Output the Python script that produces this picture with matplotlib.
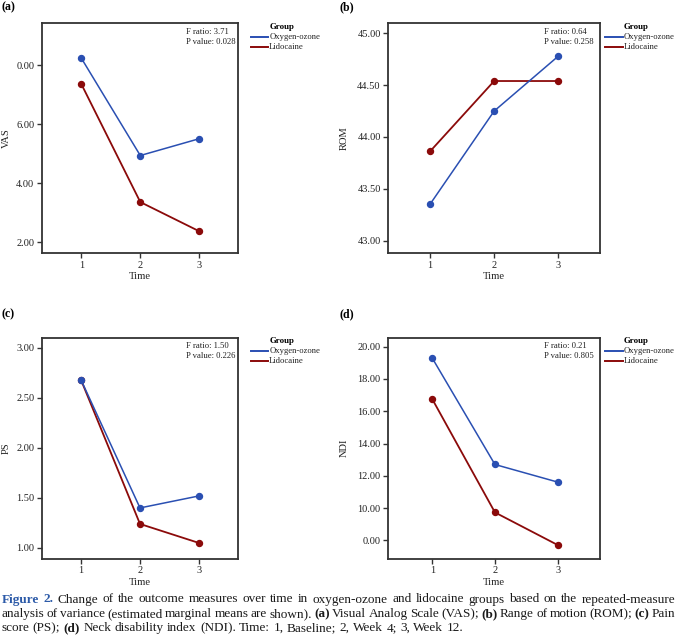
import matplotlib
matplotlib.use('Agg')
import matplotlib.pyplot as plt
from matplotlib.lines import Line2D

W, H = 677, 637
plt.rcParams['font.family'] = ['Liberation Serif', 'DejaVu Serif']

# ---------------- data ----------------
time = [1, 2, 3]
groups = ['Oxygen-ozone', 'Lidocaine']

vas_oxy = [8.24, 4.94, 5.51]
vas_lid = [7.36, 3.36, 2.37]
rom_oxy = [43.35, 44.25, 44.78]
rom_lid = [43.86, 44.54, 44.54]
ps_oxy = [2.68, 1.40, 1.52]
ps_lid = [2.68, 1.24, 1.05]
ndi_oxy = [19.30, 12.70, 11.61]
ndi_lid = [16.76, 9.73, 7.71]

vas_ticks = [2, 4, 6, 8]
vas_ticklabels = ['2.00', '4.00', '6.00', '0.00']
rom_ticks = [43.0, 43.5, 44.0, 44.5, 45.0]
rom_ticklabels = ['43.00', '43.50', '44.00', '44.50', '45.00']
ps_ticks = [1.0, 1.5, 2.0, 2.5, 3.0]
ps_ticklabels = ['1.00', '1.50', '2.00', '2.50', '3.00']
ndi_ticks = [8, 10, 12, 14, 16, 18, 20]
ndi_ticklabels = ['0.00', '10.00', '12.00', '14.00', '16.00', '18.00', '20.00']

ylabels = ['VAS', 'ROM', 'PS', 'NDI']
panel_labels = ['(a)', '(b)', '(c)', '(d)']
f_ratios = ['3.71', '0.64', '1.50', '0.21']
p_values = ['0.028', '0.258', '0.226', '0.805']

BLUE = '#2a4fb2'
RED = '#8b0a0a'
SPINE = '#333333'

fig = plt.figure(figsize=(W / 100, H / 100), dpi=100)


def fx(x):
    return x / W


def fy(y):
    return 1 - y / H


panels = [
    dict(rect=(42, 23, 238, 253), xlim=(0.33, 3.66), ylim=(1.63, 9.44),
         oxy=vas_oxy, lid=vas_lid, ticks=vas_ticks, tl=vas_ticklabels,
         ylab_x=6, lab_y=7, leg_x=250.7, leg_y=27),
    dict(rect=(388.3, 23, 600, 253), xlim=(0.35, 3.65), ylim=(42.88, 45.10),
         oxy=rom_oxy, lid=rom_lid, ticks=rom_ticks, tl=rom_ticklabels,
         ylab_x=344, lab_y=7, leg_x=605, leg_y=27),
    dict(rect=(42, 337.7, 238, 558.7), xlim=(0.34, 3.66), ylim=(0.893, 3.10),
         oxy=ps_oxy, lid=ps_lid, ticks=ps_ticks, tl=ps_ticklabels,
         ylab_x=6, lab_y=314, leg_x=250.7, leg_y=340.7),
    dict(rect=(388.3, 337.7, 600, 558.7), xlim=(0.30, 3.675), ylim=(6.86, 20.56),
         oxy=ndi_oxy, lid=ndi_lid, ticks=ndi_ticks, tl=ndi_ticklabels,
         ylab_x=344, lab_y=314, leg_x=605, leg_y=340.7),
]

for i, p in enumerate(panels):
    l, t, r, b = p['rect']
    ax = fig.add_axes([fx(l), fy(b), (r - l) / W, (b - t) / H])
    ax.plot(time, p['lid'], color=RED, lw=1.3, marker='o', ms=4.3, zorder=3)
    ax.plot(time, p['oxy'], color=BLUE, lw=1.1, marker='o', ms=4.3, zorder=4)
    ax.set_xlim(*p['xlim'])
    ax.set_ylim(*p['ylim'])
    ax.set_xticks(time)
    ax.set_xticklabels([str(v) for v in time])
    ax.set_yticks(p['ticks'])
    ax.set_yticklabels(p['tl'])
    for s in ax.spines.values():
        s.set_color(SPINE)
        s.set_linewidth(1.3)
    ax.tick_params(direction='out', length=3.5, width=1, color=SPINE,
                   labelsize=7.5, pad=2, labelcolor='#222222')
    ax.set_xlabel('Time', fontsize=7.6, labelpad=2, color='#222222')
    # y label
    fig.text(fx(p['ylab_x']), fy((t + b) / 2), ylabels[i], rotation=90,
             ha='center', va='center', fontsize=7.6, color='#222222')
    # panel label
    fig.text(fx(1 if i % 2 == 0 else 339), fy(p['lab_y']), panel_labels[i],
             ha='left', va='center', fontsize=8.5, fontweight='bold')
    # annotation
    ax_w = r - l
    ann_x = l + 0.735 * ax_w
    fig.text(fx(ann_x), fy(t + 8.7), 'F ratio: ' + f_ratios[i], ha='left',
             va='center', fontsize=6.2, color='#222222')
    fig.text(fx(ann_x), fy(t + 18.7), 'P value: ' + p_values[i], ha='left',
             va='center', fontsize=6.2, color='#222222')
    # legend
    lx, ly = p['leg_x'], p['leg_y']
    fig.text(fx(lx + 18.5), fy(ly), 'Group', ha='left', va='center',
             fontsize=6.4, fontweight='bold')
    for j, (g, c) in enumerate(zip(groups, [BLUE, RED])):
        yy = ly + 10 * (j + 1)
        fig.add_artist(Line2D([fx(lx), fx(lx + 17.5)], [fy(yy), fy(yy)],
                              color=c, lw=1.4, transform=fig.transFigure))
        fig.text(fx(lx + 18.5), fy(yy), g, ha='left', va='center',
                 fontsize=6.2, color='#222222')

# ---------------- caption (justified) ----------------
CAP_BLUE = '#2c5aa8'
cap_fs = 9.5
caption_lines = [
    [('Figure 2.', 'fig'),
     ('Change of the outcome measures over time in oxygen-ozone and lidocaine groups based on the repeated-measure', 'n')],
    [('analysis of variance (estimated marginal means are shown).', 'n'), ('(a)', 'b'),
     ('Visual Analog Scale (VAS);', 'n'), ('(b)', 'b'), ('Range of motion (ROM);', 'n'),
     ('(c)', 'b'), ('Pain', 'n')],
    [('score (PS);', 'n'), ('(d)', 'b'),
     ('Neck disability index (NDI). Time: 1, Baseline; 2, Week 4; 3, Week 12.', 'n')],
]
cap_y = [599.5, 614, 628]
justify = [True, True, False]
styles = {'n': dict(color='#1a1a1a'),
          'b': dict(color='#1a1a1a', fontweight='bold'),
          'fig': dict(color=CAP_BLUE, fontweight='bold')}

fig.canvas.draw()
renderer = fig.canvas.get_renderer()

tmp1 = fig.text(0, 0, 'x x', fontsize=cap_fs)
tmp2 = fig.text(0, 0, 'xx', fontsize=cap_fs)
space_w = (tmp1.get_window_extent(renderer).width -
           tmp2.get_window_extent(renderer).width)
tmp1.remove()
tmp2.remove()

x0, x1 = 1.5, 675.5
for line, y, just in zip(caption_lines, cap_y, justify):
    words = []
    for seg, st in line:
        for w in seg.split(' '):
            words.append((w, st))
    arts = [fig.text(0, fy(y), w, ha='left', va='center', fontsize=cap_fs,
                     **styles[st]) for w, st in words]
    widths = [a.get_window_extent(renderer).width for a in arts]
    if just:
        gap = (x1 - x0 - sum(widths)) / (len(widths) - 1)
    else:
        gap = space_w
    x = x0
    for a, wd in zip(arts, widths):
        a.set_x(fx(x))
        x += wd + gap

fig.savefig('out.png', dpi=100)
